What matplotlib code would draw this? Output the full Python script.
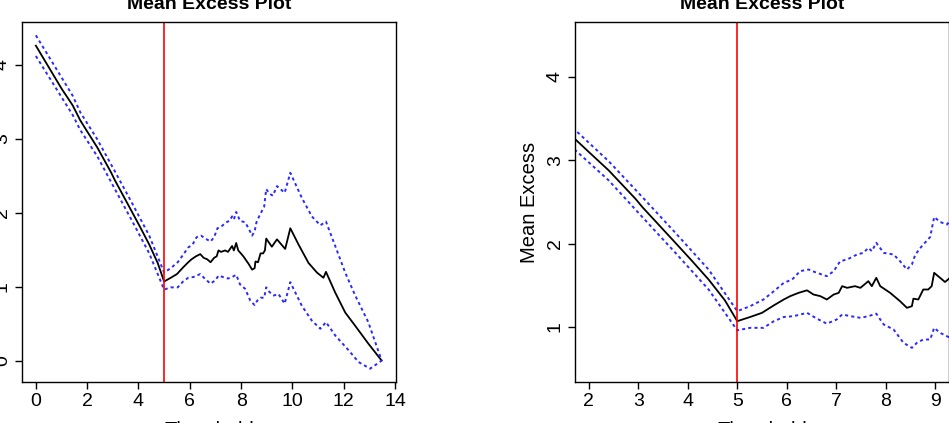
import matplotlib
matplotlib.use("Agg")
import matplotlib.pyplot as plt

plt.rcParams["font.family"] = ["Liberation Sans", "DejaVu Sans"]

# mean excess curve (black)
me_thr = [0.0, 0.5, 1.0, 1.44, 1.73, 2.0, 2.4, 2.94, 3.08, 3.75, 4.09, 4.42, 4.75,
          5.0, 5.26, 5.5, 5.74, 5.94, 6.07, 6.24, 6.41, 6.54, 6.68, 6.81, 6.95,
          7.05, 7.12, 7.22, 7.38, 7.49, 7.65, 7.72, 7.81, 7.89, 8.09, 8.29, 8.43,
          8.53, 8.56, 8.66, 8.76, 8.86, 8.93, 8.98, 9.1, 9.2, 9.4, 9.72, 9.92,
          10.24, 10.63, 10.96, 11.21, 11.31, 11.67, 12.06, 12.45, 12.96, 13.48]
me_val = [4.26, 3.97, 3.68, 3.45, 3.25, 3.10, 2.88, 2.54, 2.44, 2.01, 1.79, 1.57, 1.32,
          1.07, 1.12, 1.17, 1.26, 1.33, 1.37, 1.41, 1.44, 1.39, 1.37, 1.33, 1.39,
          1.41, 1.49, 1.47, 1.49, 1.47, 1.55, 1.49, 1.59, 1.49, 1.41, 1.31, 1.23,
          1.25, 1.34, 1.33, 1.45, 1.45, 1.49, 1.65, 1.59, 1.54, 1.64, 1.51, 1.79,
          1.57, 1.32, 1.19, 1.12, 1.20, 0.92, 0.65, 0.47, 0.23, 0.0]

# upper confidence band (blue dashed)
up_thr = [0.0, 1.44, 1.73, 2.4, 3.08, 3.75, 4.42, 5.0, 5.26, 5.53, 5.74, 5.94, 6.11,
          6.27, 6.44, 6.61, 6.81, 6.95, 7.08, 7.22, 7.42, 7.55, 7.65, 7.72, 7.81,
          7.96, 8.16, 8.29, 8.43, 8.53, 8.6, 8.73, 8.9, 8.98, 9.1, 9.24, 9.4, 9.7,
          9.92, 10.37, 10.76, 11.09, 11.31, 11.67, 12.06, 12.45, 12.96, 13.48]
up_val = [4.40, 3.58, 3.36, 2.99, 2.56, 2.13, 1.69, 1.19, 1.25, 1.33, 1.43, 1.53, 1.57,
          1.67, 1.69, 1.65, 1.61, 1.67, 1.79, 1.81, 1.87, 1.89, 1.95, 1.91, 2.01,
          1.89, 1.87, 1.79, 1.69, 1.75, 1.87, 1.97, 2.08, 2.32, 2.26, 2.23, 2.36, 2.27,
          2.54, 2.20, 1.95, 1.83, 1.88, 1.55, 1.19, 0.88, 0.52, 0.0]

# lower confidence band (blue dashed)
lo_thr = [0.0, 1.44, 1.73, 2.4, 3.08, 3.75, 4.42, 5.0, 5.26, 5.53, 5.74, 5.94, 6.14,
          6.41, 6.61, 6.81, 7.01, 7.12, 7.29, 7.49, 7.65, 7.81, 7.96, 8.16, 8.36,
          8.53, 8.63, 8.76, 8.9, 8.98, 9.1, 9.27, 9.46, 9.7, 9.92, 10.37, 10.76,
          11.09, 11.31, 11.67, 12.19, 12.58, 13.03, 13.48]
lo_val = [4.12, 3.32, 3.12, 2.76, 2.32, 1.89, 1.45, 0.96, 0.99, 0.99, 1.07, 1.12, 1.13,
          1.17, 1.10, 1.04, 1.09, 1.15, 1.13, 1.11, 1.13, 1.16, 1.03, 0.97, 0.81,
          0.75, 0.81, 0.85, 0.85, 0.99, 0.93, 0.88, 0.90, 0.77, 1.06, 0.74, 0.54,
          0.43, 0.52, 0.34, 0.14, -0.02, -0.11, 0.0]

chosen_u = 5.0

panels = [
    {"xlim": (-0.54, 14.04), "ylim": (-0.29, 4.58),
     "xticks": [0, 2, 4, 6, 8, 10, 12, 14], "yticks": [0, 1, 2, 3, 4]},
    {"xlim": (1.72, 9.28), "ylim": (0.34, 4.66),
     "xticks": [2, 3, 4, 5, 6, 7, 8, 9], "yticks": [1, 2, 3, 4]},
]

W, H = 949, 423
fig = plt.figure(figsize=(W / 100, H / 100), dpi=100)
lefts = [22, 575]
for left, p in zip(lefts, panels):
    ax = fig.add_axes([left / W, 1 - 382 / H, 374 / W, 360 / H])
    ax.plot(me_thr, me_val, color="black", lw=1.3)
    ax.plot(up_thr, up_val, color="#2a2aff", lw=1.4, ls=(0, (1.6, 1.6)))
    ax.plot(lo_thr, lo_val, color="#2a2aff", lw=1.4, ls=(0, (1.6, 1.6)))
    ax.axvline(chosen_u, color="red", lw=1.2)
    ax.set_xlim(*p["xlim"])
    ax.set_ylim(*p["ylim"])
    ax.set_xticks(p["xticks"])
    ax.set_yticks(p["yticks"])
    ax.tick_params(direction="out", length=5, width=1, labelsize=14, pad=3)
    for lab in ax.get_yticklabels():
        lab.set_rotation(90)
        lab.set_va("center")
    for s in ax.spines.values():
        s.set_linewidth(1.0)
    ax.set_xlabel("Threshold", fontsize=14.5, labelpad=8)
    ax.set_ylabel("Mean Excess", fontsize=14.5, labelpad=6)
    ax.text(0.5, 1 + 13 / 360, "Mean Excess Plot", transform=ax.transAxes,
            ha="center", va="baseline", fontsize=14, fontweight="bold")

fig.savefig("out.png", dpi=100)
